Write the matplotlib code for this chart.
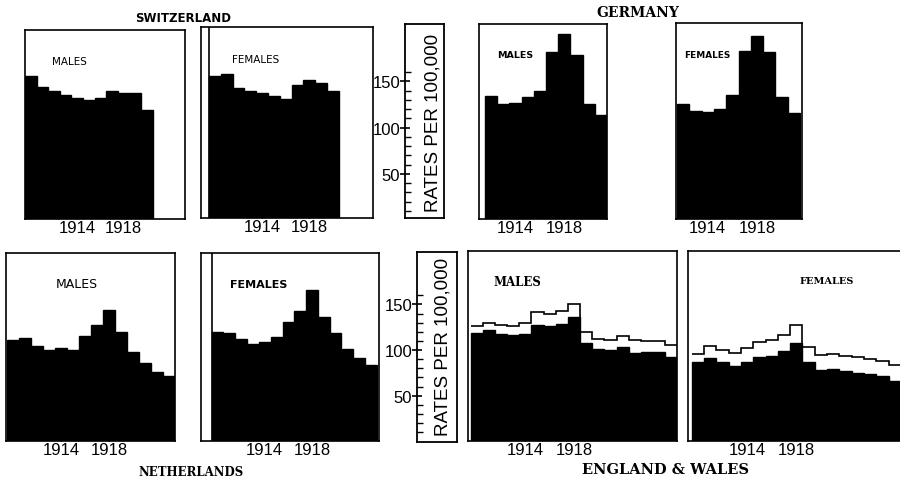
import matplotlib
matplotlib.use('Agg')
import matplotlib.pyplot as plt
from matplotlib.ticker import FixedLocator

plt.rcParams['font.family'] = ['Liberation Sans', 'DejaVu Sans']

# ---------------- data (rates per 100,000) ----------------
sw_years = [1910, 1911, 1912, 1913, 1914, 1915, 1916, 1917, 1918, 1919, 1920]
sw_male = [156, 144, 139, 135, 132, 130, 132, 139, 137, 137, 119]
sw_female = [155.5, 158, 142.5, 140, 137.5, 134, 130.5, 146, 151.5, 148.5, 139.5]

de_years = [1912, 1913, 1914, 1915, 1916, 1917, 1918, 1919, 1920, 1921]
de_male = [134.5, 125.5, 126.5, 133, 140, 181.5, 201, 178, 125.5, 114]
de_female = [125, 117.5, 117, 120.5, 135.5, 183, 198.5, 181.5, 133, 115.5]

nl_years = [1910, 1911, 1912, 1913, 1914, 1915, 1916, 1917, 1918, 1919,
            1920, 1921, 1922, 1923]
nl_male = [111, 113, 104, 100, 102, 100, 115, 127, 144, 119.5, 98, 86, 76, 72]
nl_female = [119.5, 118.5, 112, 106.5, 108.5, 114, 130.5, 142.5, 166, 136.5,
             118.5, 101, 91, 83.5]

ew_years = [1910, 1911, 1912, 1913, 1914, 1915, 1916, 1917, 1918, 1919,
            1920, 1921, 1922, 1923, 1924, 1925, 1926]
ew_male = [118.5, 121.5, 118, 116.5, 118, 127.5, 126.5, 129, 136, 108,
           101, 100, 103, 96.5, 97.5, 97.5, 92]
ew_male_line = [126, 130, 128, 126.5, 130, 142, 139.5, 143, 151, 120,
                112, 111.5, 115, 111, 110.5, 109.5, 105.5]
ew_female = [86.5, 91, 86.5, 83, 87.5, 92, 94, 99, 107.5, 86.5,
             78, 79, 77, 74.5, 73.5, 72, 66]
ew_female_line = [96, 104, 100, 96.5, 102, 109, 111, 117, 128, 103,
                  94.5, 95.5, 94, 92.5, 90, 88.5, 84]

tick_years = [1914, 1918]
scale_ticks = [50, 100, 150]
scale_minor = [10, 20, 30, 40, 60, 70, 80, 90, 110, 120, 130, 140, 160]
scale_label = 'RATES PER 100,000'

# ---------------- layout helpers ----------------
W, H = 900, 481
fig = plt.figure(figsize=(9, 4.81), dpi=100)
fig.patch.set_facecolor('white')


def px_axes(x0, y0, x1, y1):
    return fig.add_axes([x0 / W, 1 - y1 / H, (x1 - x0) / W, (y1 - y0) / H])


def ftext(x, y, s, **kw):
    fig.text(x / W, 1 - y / H, s, ha='center', va='center', **kw)


TOP = (221.3, 0.927)   # zero pixel row, pixels per unit
BOT = (442.4, 0.913)


def panel(box, bar_left, bar_w, row, years, vals, line=None, inner=False):
    x0, y0, x1, y1 = box
    zero_px, ppu = row
    ax = px_axes(*box)
    first = years[0] - 0.5
    ax.set_xlim(first - (bar_left - x0) / bar_w, first + (x1 - bar_left) / bar_w)
    ax.set_ylim((zero_px - y1) / ppu, (zero_px - y0) / ppu)
    ax.bar(years, vals, width=1.0, color='black', edgecolor='black',
           linewidth=1.0)
    if line is not None:
        edges = [y - 0.5 for y in years] + [years[-1] + 0.5]
        ax.stairs(line, edges, baseline=None, color='black', linewidth=1.2)
    if inner:
        ax.axvline(first, color='black', linewidth=1.2)
    ax.set_yticks([])
    ax.xaxis.set_major_locator(FixedLocator(tick_years))
    ax.set_xticklabels([str(t) for t in tick_years])
    ax.tick_params(axis='x', direction='in', length=3, width=1, pad=1.0,
                   labelsize=12)
    for s in ax.spines.values():
        s.set_linewidth(1.2)
    return ax


def scale(box, row, label_x, label_y):
    x0, y0, x1, y1 = box
    zero_px, ppu = row
    ax = px_axes(*box)
    ax.set_xlim(0, 1)
    ax.set_ylim((zero_px - y1) / ppu, (zero_px - y0) / ppu)
    ax.set_xticks([])
    ax.yaxis.set_major_locator(FixedLocator(scale_ticks))
    ax.yaxis.set_minor_locator(FixedLocator(scale_minor))
    ax.tick_params(axis='y', which='major', direction='inout', length=7,
                   width=1.2, pad=0, labelsize=12)
    ax.tick_params(axis='y', which='minor', direction='in', length=4,
                   width=1)
    for s in ax.spines.values():
        s.set_linewidth(1.3)
    ftext(label_x, label_y, scale_label, rotation=90, fontsize=13.5,
          family='Liberation Sans')
    return ax


# ---------------- top row ----------------
panel((25, 31, 185, 220), 25, 11.6, TOP, sw_years, sw_male)
panel((201, 28, 373, 219), 209, 11.8, TOP, sw_years, sw_female, inner=True)
scale((405, 25, 444, 219), TOP, 433, 123)
panel((479, 25, 607, 220), 485, 12.2, TOP, de_years, de_male)
panel((676, 24, 802, 220), 677, 12.3, TOP, de_years, de_female)

# ---------------- bottom row ----------------
panel((6, 254, 175, 442), 7.3, 11.95, BOT, nl_years, nl_male)
panel((201, 254, 379, 442), 211.7, 11.8, BOT, nl_years, nl_female, inner=True)
scale((417, 253, 457, 443), BOT, 443, 347)
panel((468, 252, 677, 442), 470.7, 12.15, BOT, ew_years, ew_male,
      line=ew_male_line)
panel((688, 252, 904, 442), 691.7, 12.3, BOT, ew_years, ew_female,
      line=ew_female_line)

# ---------------- titles & panel labels ----------------
ftext(183, 19, 'SWITZERLAND', fontsize=8.5, family='DejaVu Sans',
      weight='bold')
ftext(638, 13, 'GERMANY', fontsize=10, family='DejaVu Serif', weight='bold')
ftext(191, 473, 'NETHERLANDS', fontsize=8.5, family='DejaVu Serif',
      weight='bold')
ftext(666, 470, 'ENGLAND & WALES', fontsize=10.5, family='DejaVu Serif',
      weight='bold')

ftext(69, 62, 'MALES', fontsize=7.5, family='DejaVu Sans')
ftext(256, 60, 'FEMALES', fontsize=7.5, family='DejaVu Sans')
ftext(515, 55, 'MALES', fontsize=6.8, family='DejaVu Sans', weight='bold')
ftext(707, 55, 'FEMALES', fontsize=6.4, family='DejaVu Sans', weight='bold')
ftext(77, 285, 'MALES', fontsize=9, family='DejaVu Sans')
ftext(259, 285, 'FEMALES', fontsize=8, family='DejaVu Sans', weight='bold')
ftext(517, 283, 'MALES', fontsize=8.5, family='DejaVu Serif', weight='bold')
ftext(827, 282, 'FEMALES', fontsize=7, family='DejaVu Serif', weight='bold')

fig.savefig('out.png', dpi=100, facecolor='white')
